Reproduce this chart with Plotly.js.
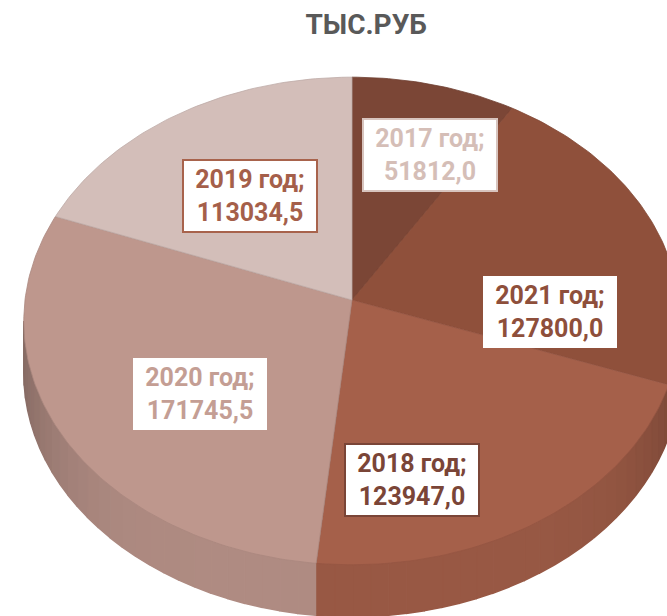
<!DOCTYPE html>
<html>
<head>
<meta charset="utf-8">
<script src="https://cdn.plot.ly/plotly-3.0.1.min.js"></script>
<style>html,body{margin:0;padding:0;background:#fff;}#chart{width:667px;height:616px;}</style>
</head>
<body>
<div id="chart"></div>
<script>
// ---- data (clockwise from 12 o'clock) ----
const years = ['2017', '2021', '2018', '2020', '2019'];
const values = [51812.0, 127800.0, 123947.0, 171745.5, 113034.5];
const titleText = 'ТЫС.РУБ';

// ---- styles ----
const sliceColors = ['#7B4636', '#8F503B', '#A5604A', '#BE978D', '#D3BEB9'];
const labelTextColors = ['#D5BEB7', '#8E4F3B', '#7A4537', '#C49E94', '#A55F4A'];
const labelBorderColors = ['#D8C4BE', 'rgba(0,0,0,0)', '#7A4537', 'rgba(0,0,0,0)', '#A8634C'];
const labelCenters = [[430, 155], [550, 312], [412, 480], [200, 394], [250, 196]];

// projection of the tilted disc (pixel space)
const P = {cx: 352, cy: 300, A: 327, B: 242, c: 0.086, depth: 52};
function proj(th, dz) {
  const u = Math.sin(th), v = Math.cos(th), w = 1 + P.c * v;
  return [P.cx + P.A * u / w, P.cy - P.B * v / w + dz];
}
function hexToRgb(h) { return [1,3,5].map(i => parseInt(h.substr(i, 2), 16)); }
function shade(h, f) { const r = hexToRgb(h).map(x => Math.max(0, Math.min(255, Math.round(x * f)))); return `rgb(${r[0]},${r[1]},${r[2]})`; }

const total = values.reduce((a, b) => a + b, 0);
const starts = [], ends = [];
let acc = 0;
values.forEach(v => { starts.push(acc / total * 2 * Math.PI); acc += v; ends.push(acc / total * 2 * Math.PI); });

const traces = [];
const visA = Math.acos(-P.c), visB = 2 * Math.PI - Math.acos(-P.c);
// side walls
values.forEach((v, i) => {
  const a0 = Math.max(starts[i], visA), a1 = Math.min(ends[i], visB);
  if (a1 <= a0) return;
  const nSeg = Math.max(1, Math.ceil((a1 - a0) / (3 * Math.PI / 180)));
  for (let s = 0; s < nSeg; s++) {
    const t0 = a0 + (a1 - a0) * s / nSeg, t1 = a0 + (a1 - a0) * (s + 1) / nSeg;
    const xs = [], ys = [];
    const n = 4;
    for (let k = 0; k <= n; k++) { const p = proj(t0 + (t1 - t0) * k / n, 0); xs.push(p[0]); ys.push(p[1]); }
    for (let k = n; k >= 0; k--) { const p = proj(t0 + (t1 - t0) * k / n, P.depth); xs.push(p[0]); ys.push(p[1]); }
    const tm = (t0 + t1) / 2;
    const f = 0.92 - 0.22 * Math.pow(Math.abs(Math.sin(tm)), 6);
    const col = shade(sliceColors[i], f);
    traces.push({type: 'scatter', mode: 'lines', x: xs, y: ys, fill: 'toself', fillcolor: col,
      line: {width: 1.5, color: col}, hoverinfo: 'skip', showlegend: false});
  }
});
// top faces
values.forEach((v, i) => {
  const xs = [P.cx], ys = [P.cy];
  const n = Math.max(8, Math.ceil((ends[i] - starts[i]) / (Math.PI / 180)));
  for (let k = 0; k <= n; k++) { const p = proj(starts[i] + (ends[i] - starts[i]) * k / n, 0); xs.push(p[0]); ys.push(p[1]); }
  xs.push(P.cx); ys.push(P.cy);
  traces.push({type: 'scatter', mode: 'lines', x: xs, y: ys, fill: 'toself', fillcolor: sliceColors[i],
    line: {width: 0.8, color: shade(sliceColors[i], 0.9)}, hoverinfo: 'skip', showlegend: false});
});

const fmt = v => v.toFixed(1).replace('.', ',');
const annotations = values.map((v, i) => ({
  x: labelCenters[i][0], y: labelCenters[i][1], xref: 'x', yref: 'y',
  text: `${years[i]} год;<br>${fmt(v)}`, showarrow: false,
  xanchor: 'center', yanchor: 'middle', align: 'center',
  width: 130, height: 68, bgcolor: '#FFFFFF', bordercolor: labelBorderColors[i], borderwidth: 2, borderpad: 1,
  font: {family: 'Roboto, sans-serif', size: 25, color: labelTextColors[i], weight: 'bold'}
}));

const layout = {
  width: 667, height: 616, margin: {l: 0, r: 0, t: 0, b: 0},
  paper_bgcolor: '#FFFFFF', plot_bgcolor: '#FFFFFF',
  title: {text: titleText, x: 0.549, xanchor: 'center', xref: 'paper', y: 1 - 24 / 616, yanchor: 'middle', yref: 'container',
    font: {family: 'Roboto, sans-serif', size: 28, color: '#595959', weight: 'bold'}},
  xaxis: {range: [0, 667], visible: false, fixedrange: true},
  yaxis: {range: [616, 0], visible: false, fixedrange: true},
  annotations: annotations,
  showlegend: false
};
Plotly.newPlot('chart', traces, layout, {displayModeBar: false, staticPlot: true});
</script>
</body>
</html>
